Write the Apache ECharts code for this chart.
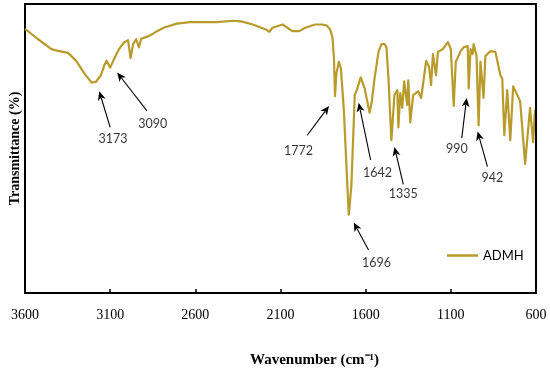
<!DOCTYPE html>
<html>
<head>
<meta charset="utf-8">
<script src="https://cdn.jsdelivr.net/npm/echarts@6/dist/echarts.min.js"></script>
<style>html,body{margin:0;padding:0;background:#fff;overflow:hidden}#c{width:550px;height:373px}</style>
</head>
<body>
<div id="c"></div>
<script>
// Spectrum (wavenumber in cm-1, transmittance in arbitrary %)
var wavenumbers = [3600,3523,3445,3406,3348,3300,3251,3209,3183,3154,3135,3121,3100,3077,3048,3019,2995,2980,2965,2947,2931,2918,2883,2854,2825,2786,2709,2631,2476,2379,2331,2263,2186,2166,2147,2088,2030,1990,1982,1955,1897,1856,1827,1809,1795,1786,1780,1772,1757,1745,1728,1710,1699,1684,1664,1652,1647,1629,1606,1577,1565,1548,1524,1507,1489,1478,1466,1449,1431,1414,1408,1397,1385,1374,1356,1350,1338,1321,1292,1274,1245,1228,1216,1205,1187,1176,1147,1117,1100,1083,1071,1042,1024,1001,995,984,972,966,949,937,926,908,897,867,838,809,798,786,769,763,751,734,693,664,635,617,606,600];
var transmittance = [91.4,87.8,84.4,83.8,83.1,80.4,75.9,72.8,73.1,75.4,78.7,80.4,78.0,81.0,84.4,86.7,87.5,81.3,86.1,87.8,85.0,88.0,88.7,89.5,90.6,91.8,93.2,93.7,93.7,94.2,94.0,92.9,91.2,90.4,91.8,92.9,90.6,90.6,91.2,91.8,92.9,92.9,92.5,91.2,88.5,81.0,68.1,75.9,80.0,77.6,63.1,40.3,27.1,37.0,68.5,70.2,70.8,74.6,70.8,62.4,65.8,74.2,83.7,86.1,86.1,85.1,74.2,52.9,68.5,70.2,57.3,69.2,64.1,73.2,65.1,73.6,59.0,68.5,69.8,67.5,80.3,78.3,71.9,82.7,75.3,83.4,84.4,86.8,84.4,64.7,80.0,83.7,85.1,85.4,70.8,84.4,82.7,86.1,82.0,58.0,80.0,67.5,82.0,83.7,83.4,75.3,74.2,54.6,70.2,70.8,52.9,71.5,66.4,44.7,64.1,52.2,63.1,62.4];
var seriesName = 'ADMH';
var xTicks = [600,1100,1600,2100,2600,3100,3600];
var xMin = 600, xMax = 3600, yMin = 0, yMax = 100;

// Peak annotations (label, label position, arrow tail, arrow head) in data coordinates
var peakLabels = ['3173','3090','1772','1642','1335','990','942','1696'];
var labelX = [3083,2850,1995,1530,1379,1065,856,1536];
var labelY = [53.2,58.6,49.2,41.7,34.2,49.8,39.7,10.5];
var tailX = [3100,2885,1943,1571,1379,1036,885,1583];
var tailY = [57.3,63.1,54.6,46.1,37.6,53.6,43.7,14.9];
var headX = [3164,3059,1815,1641,1431,1007,943,1670];
var headY = [69.8,76.3,64.7,65.8,50.5,67.5,55.9,24.4];

var lineData = wavenumbers.map(function(w,i){return [w, transmittance[i]];});
var labelData = peakLabels.map(function(t,i){return {value:[labelX[i],labelY[i]], name:t};});
var arrowData = peakLabels.map(function(t,i){return [tailX[i],tailY[i],headX[i],headY[i]];});

function renderArrow(params, api){
  var p0 = api.coord([api.value(0), api.value(1)]);
  var p1 = api.coord([api.value(2), api.value(3)]);
  var dx = p1[0]-p0[0], dy = p1[1]-p0[1];
  var len = Math.sqrt(dx*dx+dy*dy); var ux = dx/len, uy = dy/len;
  var hl = 9, hw = 4;
  var bx = p1[0]-ux*hl, by = p1[1]-uy*hl;
  var nx = -uy, ny = ux;
  return {type:'group', children:[
    {type:'line', shape:{x1:p0[0],y1:p0[1],x2:bx+ux*2,y2:by+uy*2}, style:{stroke:'#000',lineWidth:1.1}},
    {type:'polygon', shape:{points:[[p1[0],p1[1]],[bx+nx*hw,by+ny*hw],[bx+ux*2.5,by+uy*2.5],[bx-nx*hw,by-ny*hw]]}, style:{fill:'#000'}}
  ]};
}

var chart = echarts.init(document.getElementById('c'));
var axisLineStyle = {show:true,onZero:false,lineStyle:{color:'#000',width:2}};
chart.setOption({
  animation:false,
  backgroundColor:'#fff',
  grid:{left:20,right:14,top:4,bottom:74,show:true,borderColor:'#000',borderWidth:2,backgroundColor:'rgba(0,0,0,0)'},
  legend:{
    data:[{name:seriesName}],
    left:442, top:244,
    icon:'rect', itemWidth:31, itemHeight:2.5, itemGap:4,
    textStyle:{fontFamily:'Lato',fontSize:13,color:'#000'}
  },
  xAxis:{
    type:'value', inverse:true, min:xMin, max:xMax, interval:500,
    axisLine:axisLineStyle,
    axisTick:{show:true,inside:true,length:4,lineStyle:{color:'#000',width:1.5}},
    axisLabel:{fontFamily:'Liberation Serif',fontSize:14,color:'#000',margin:15,
      formatter:function(v){return xTicks.indexOf(v)>=0?String(v):'';}},
    splitLine:{show:false},
    name:'Wavenumber (cm\u207B\u00B9)', nameLocation:'middle', nameGap:60,
    nameTextStyle:{fontFamily:'Liberation Serif',fontSize:15,fontWeight:'bold',color:'#000',padding:[0,0,0,68]}
  },
  yAxis:{
    type:'value', min:yMin, max:yMax,
    axisLine:axisLineStyle,
    axisTick:{show:false}, axisLabel:{show:false}, splitLine:{show:false},
    name:'Transmittance (%)', nameLocation:'middle', nameGap:3, nameRotate:90,
    nameTextStyle:{fontFamily:'Liberation Serif',fontSize:14,fontWeight:'bold',color:'#000'}
  },
  series:[
    {
      name:seriesName, type:'line', data:lineData, showSymbol:false, symbol:'none',
      smooth:false, lineStyle:{color:'#b89b2a',width:2.2,join:'round'}, itemStyle:{color:'#b89b2a'},
      z:3
    },
    {
      name:'arrows', type:'custom', data:arrowData, silent:true,
      encode:{x:[0,2], y:[1,3]},
      renderItem:renderArrow, z:4
    },
    {
      name:'labels', type:'scatter', data:labelData, symbolSize:0, silent:true,
      label:{show:true,position:'inside',formatter:'{b}',fontFamily:'Lato',fontSize:12.5,color:'#000'}
    }
  ]
});
// Frame: top and right edges, placed from the chart's own scale conversion
var tl = chart.convertToPixel({gridIndex:0}, [xMax, yMax]);
var br = chart.convertToPixel({gridIndex:0}, [xMin, yMin]);
chart.setOption({
  graphic:[{
    type:'polyline', z:100, silent:true,
    shape:{points:[[tl[0], tl[1]], [br[0], tl[1]], [br[0], br[1]]]},
    style:{stroke:'#000', lineWidth:2, fill:null}
  }]
});
</script>
</body>
</html>
